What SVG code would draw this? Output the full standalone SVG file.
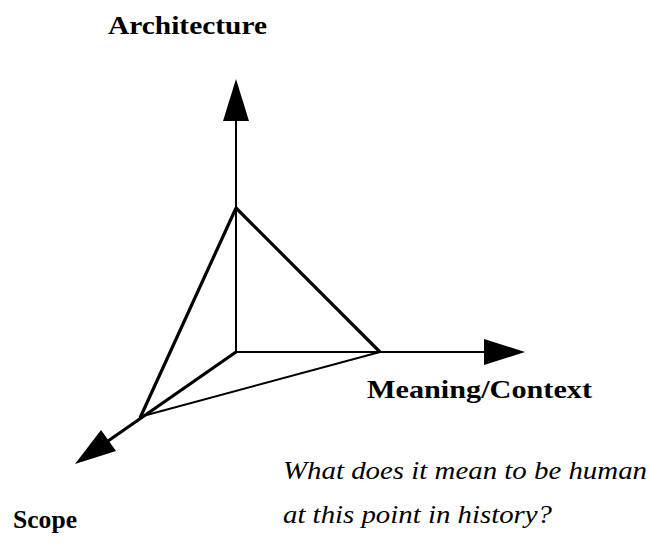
<svg xmlns="http://www.w3.org/2000/svg" width="649" height="550" viewBox="0 0 649 550">
<style>
.lbl{font-family:"Liberation Serif","Times New Roman",serif;font-weight:bold;font-size:26px;fill:#000}
.q{font-family:"Liberation Serif","Times New Roman",serif;font-style:italic;font-size:26px;fill:#000}
.thin{stroke:#000;stroke-width:2;fill:none}
.thick{stroke:#000;stroke-width:3.2;fill:none;stroke-linejoin:miter}
.head{fill:#000;stroke:none}
</style>
<rect width="649" height="550" fill="#fff"/>
<g id="connectors">
<line class="thin" x1="236" y1="353" x2="236" y2="118"/>
<polygon class="head" points="236,79 223,121 249,121"/>
<line class="thin" x1="235" y1="352" x2="486" y2="352"/>
<polygon class="head" points="525,352 484,339 484,365"/>
<polyline class="thick" points="236,352 108,441"/>
<polygon class="head" points="75,464 101,430 116,451"/>
</g>
<g id="triangle">
<line class="thick" x1="236" y1="208" x2="380" y2="352"/>
<line class="thick" x1="236" y1="208" x2="140" y2="418"/>
<line class="thin" x1="380" y1="352" x2="143" y2="416" stroke-width="1.6"/>
</g>
<g id="architecture"><text class="lbl" x="108" y="34" textLength="159" lengthAdjust="spacingAndGlyphs">Architecture</text></g>
<g id="meaning"><text class="lbl" x="367" y="398" textLength="225" lengthAdjust="spacingAndGlyphs">Meaning/Context</text></g>
<g id="scope"><text class="lbl" x="13" y="528" textLength="64" lengthAdjust="spacingAndGlyphs">Scope</text></g>
<g id="question">
<text class="q" x="283" y="479" textLength="364" lengthAdjust="spacingAndGlyphs">What does it mean to be human</text>
<text class="q" x="283" y="523" textLength="269" lengthAdjust="spacingAndGlyphs">at this point in history?</text>
</g>
</svg>
